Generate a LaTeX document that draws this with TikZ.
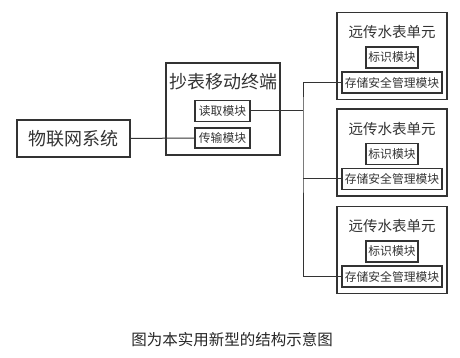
\documentclass[tikz,border=0pt]{standalone}
\usepackage{fontspec}
\newfontfamily\cjk{Noto Sans CJK SC}
\definecolor{ink}{HTML}{333333}
\tikzset{
    box/.style={draw=ink, line width=1.4pt, inner sep=0pt},
    subbox/.style={draw=ink, line width=1.1pt, inner sep=0pt, minimum height=21pt,
        font=\cjk\fontsize{11.8}{12}\selectfont, text=ink},
    wire/.style={draw=ink, line width=1pt}
}
\begin{document}
\begin{tikzpicture}[x=1pt, y=-1pt]
    \useasboundingbox (0,0) rectangle (460,358);
    % IoT system
    \node[box, minimum width=113pt, minimum height=37pt, text=ink,
        font=\cjk\fontsize{18}{18}\selectfont] (iot) at (73.5,138.5) {物联网系统};
    % Meter reading terminal
    \node[box, minimum width=114pt, minimum height=92pt] (term) at (223,109) {};
    \node[text=ink, font=\cjk\fontsize{18}{18}\selectfont] (termtitle) at (223,82) {抄表移动终端};
    \node[subbox, minimum width=55pt] (read) at (222.5,111) {读取模块};
    \node[subbox, minimum width=55pt, minimum height=20pt] (trans) at (222.5,138) {传输模块};

    % Remote water meter units
    \foreach \i/\y in {1/56, 2/152.5, 3/250} {
        \node[box, minimum width=110pt, minimum height=87pt] (unit\i) at (392,\y) {};
        \node[text=ink, font=\cjk\fontsize{14.5}{15}\selectfont] (title\i) at (392,\y-24) {远传水表单元};
        \node[subbox, minimum width=52pt] (mark\i) at (392,\y+1.5) {标识模块};
        \node[subbox, minimum width=100pt] (store\i) at (392,\y+26.5) {存储安全管理模块};
    }

    % Connections
    \coordinate (bus) at (303,111);
    \draw[wire] (iot.east) -- (trans.west);
    \draw[wire] (read.east) -- (bus);
    \draw[wire] (store1.west) -| (bus) |- (store3.west);
    \draw[wire] (bus |- store2.west) -- (store2.west);

    % Caption
    \node[text=black!85, font=\cjk\fontsize{15.5}{16}\selectfont] (caption) at (232,340) {图为本实用新型的结构示意图};
\end{tikzpicture}
\end{document}
